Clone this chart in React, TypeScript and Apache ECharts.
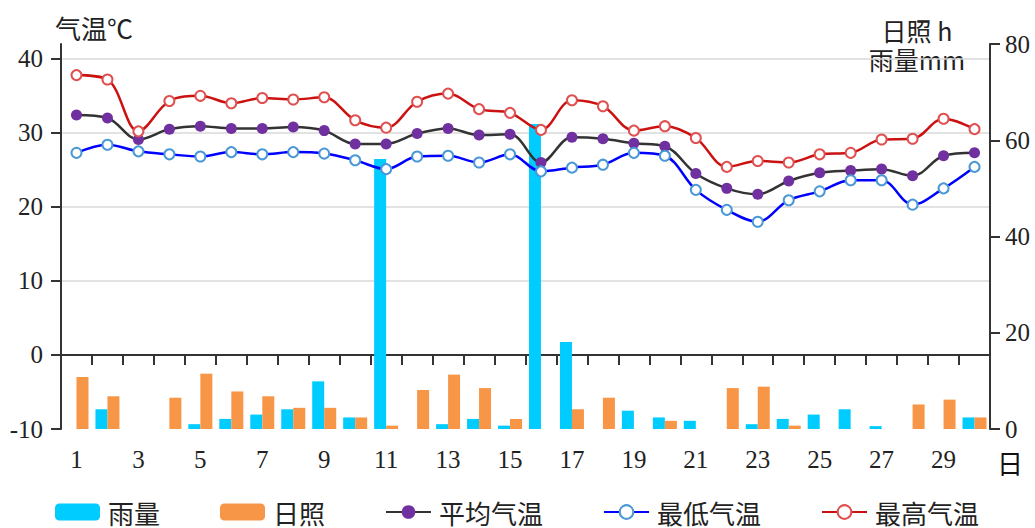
import { useEffect, useRef } from "react";
import * as echarts from "echarts";

const days = ["1","2","3","4","5","6","7","8","9","10","11","12","13","14","15","16","17","18","19","20","21","22","23","24","25","26","27","28","29","30"];
const rainfall = [0, 4.1, 0, 0, 1.0, 2.1, 3.0, 4.1, 9.9, 2.4, 56.1, 0, 1.0, 2.1, 0.7, 63.4, 18.1, 0, 3.8, 2.4, 1.7, 0, 1.0, 2.1, 3.0, 4.1, 0.6, 0, 0, 2.4];
const sunshine = [10.8, 6.8, 0, 6.5, 11.5, 7.8, 6.8, 4.4, 4.4, 2.4, 0.7, 8.1, 11.3, 8.5, 2.1, 0, 4.1, 6.5, 0, 1.7, 0, 8.5, 8.8, 0.7, 0, 0, 0, 5.1, 6.1, 2.4];
const avgTemp = [32.4, 32.0, 29.1, 30.5, 30.9, 30.6, 30.6, 30.8, 30.3, 28.5, 28.5, 29.9, 30.6, 29.7, 29.8, 26.0, 29.4, 29.2, 28.6, 28.2, 24.5, 22.5, 21.7, 23.5, 24.6, 24.9, 25.1, 24.2, 26.9, 27.3];
const minTemp = [27.3, 28.4, 27.5, 27.1, 26.8, 27.4, 27.1, 27.4, 27.2, 26.3, 25.1, 26.8, 26.9, 26.0, 27.1, 24.8, 25.3, 25.7, 27.3, 26.9, 22.3, 19.6, 18.0, 20.9, 22.1, 23.6, 23.6, 20.3, 22.5, 25.4];
const maxTemp = [37.8, 37.2, 30.2, 34.3, 35.0, 34.0, 34.7, 34.5, 34.8, 31.7, 30.7, 34.2, 35.3, 33.2, 32.7, 30.4, 34.4, 33.6, 30.3, 30.9, 29.3, 25.4, 26.2, 26.0, 27.1, 27.3, 29.1, 29.2, 31.9, 30.5];
const tempTicks = [-10, 0, 10, 20, 30, 40];
const legendNames = ["雨量", "日照", "平均气温", "最低气温", "最高气温"];

const CJK = "'Noto Sans CJK SC', 'Noto Sans', sans-serif";
const SERIF = "'Liberation Serif', 'DejaVu Serif', serif";
const AXIS = "#333";

export default function App() {
  const ref = useRef<HTMLDivElement>(null);
  useEffect(() => {
    if (!ref.current) return;
    const chart = echarts.init(ref.current, null, { renderer: "svg" });
    chart.setOption({
      animation: false,
      grid: { left: 61, right: 45, top: 44, bottom: 99, containLabel: false },
      legend: {
        data: legendNames,
        left: 55,
        top: 499,
        padding: 0,
        itemWidth: 45,
        itemHeight: 17,
        itemGap: 60,
        textStyle: { fontSize: 26, fontFamily: CJK, color: "#222", lineHeight: 26, padding: [0, 0, 0, 3] },
      },
      graphic: [
        { type: "text", x: 55, y: 27, style: { text: "气温℃", fontSize: 26, lineHeight: 26, fontFamily: CJK, fill: "#222", align: "left", verticalAlign: "middle" } },
        { type: "text", x: 917, y: 30, style: { text: "日照 h", fontSize: 25, lineHeight: 25, fontFamily: CJK, fill: "#222", align: "center", verticalAlign: "middle" } },
        { type: "text", x: 917, y: 59, style: { text: "雨量mm", fontSize: 25, lineHeight: 25, fontFamily: CJK, fill: "#222", align: "center", verticalAlign: "middle" } },
        { type: "text", x: 997, y: 462, style: { text: "日", fontSize: 26, lineHeight: 26, fontFamily: CJK, fill: "#111", align: "left", verticalAlign: "middle" } },
      ],
      xAxis: {
        type: "category",
        data: days,
        boundaryGap: true,
        axisLine: { lineStyle: { color: AXIS, width: 2 } },
        axisTick: { show: true, interval: 0, length: 10, lineStyle: { color: AXIS, width: 2 } },
        axisLabel: { interval: 1, margin: 18, fontSize: 25, fontFamily: SERIF, color: "#222" },
        splitLine: { show: false },
      },
      yAxis: [
        {
          type: "value",
          position: "left",
          min: -10,
          max: 42,
          interval: 10,
          axisLine: { show: true, lineStyle: { color: AXIS, width: 2 } },
          axisTick: { show: true, length: 10, customValues: tempTicks, lineStyle: { color: AXIS, width: 2 } },
          axisLabel: { customValues: tempTicks, margin: 18, fontSize: 25, fontFamily: SERIF, color: "#222" },
          splitLine: { show: true, showMinLine: false, lineStyle: { color: "#d9d9d9", width: 1.5 } },
        },
        {
          type: "value",
          position: "right",
          min: 0,
          max: 80,
          interval: 20,
          axisLine: { show: true, lineStyle: { color: AXIS, width: 2 } },
          axisTick: { show: true, length: 10, lineStyle: { color: AXIS, width: 2 } },
          axisLabel: { margin: 15, fontSize: 25, fontFamily: SERIF, color: "#222" },
          splitLine: { show: false },
        },
      ],
      series: [
        { name: "雨量", type: "bar", yAxisIndex: 1, data: rainfall, barWidth: 12, barGap: "0%", itemStyle: { color: "#00CCFF" } },
        { name: "日照", type: "bar", yAxisIndex: 1, data: sunshine, barWidth: 12, barGap: "0%", itemStyle: { color: "#F79646" } },
        {
          name: "平均气温", type: "line", yAxisIndex: 0, data: avgTemp, smooth: 0.35,
          symbol: "circle", symbolSize: 11,
          itemStyle: { color: "#7030A0" },
          lineStyle: { color: "#333333", width: 2.5 },
        },
        {
          name: "最低气温", type: "line", yAxisIndex: 0, data: minTemp, smooth: 0.35,
          symbol: "circle", symbolSize: 10,
          itemStyle: { color: "#ffffff", borderColor: "#4a98d6", borderWidth: 2 },
          lineStyle: { color: "#0000ff", width: 2.5 },
        },
        {
          name: "最高气温", type: "line", yAxisIndex: 0, data: maxTemp, smooth: 0.35,
          symbol: "circle", symbolSize: 10,
          itemStyle: { color: "#ffffff", borderColor: "#e05050", borderWidth: 2 },
          lineStyle: { color: "#cc1111", width: 2.5 },
        },
      ],
    });
    return () => chart.dispose();
  }, []);
  return <div ref={ref} style={{ position: "fixed", left: 0, top: 0, width: 1035, height: 528, background: "#fff" }} />;
}
